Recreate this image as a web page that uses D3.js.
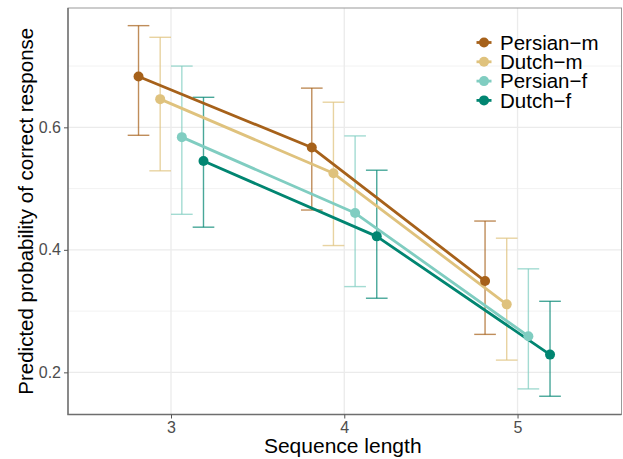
<!DOCTYPE html>
<html>
<head>
<meta charset="utf-8">
<script src="https://cdn.jsdelivr.net/npm/d3@7/dist/d3.min.js"></script>
<style>
  html, body { margin: 0; padding: 0; background: #ffffff; }
  svg { display: block; font-family: "Liberation Sans", Arial, Helvetica, sans-serif; }
</style>
</head>
<body>
<svg id="chart" width="623" height="459"></svg>
<script>
// ---- data ----
const lengths = [3, 4, 5];
const groups = ["Persian\u2212m", "Dutch\u2212m", "Persian\u2212f", "Dutch\u2212f"];
const colors = ["#A6611A", "#DFC27D", "#80CDC1", "#018571"];
const estimate = [
  [0.683, 0.567, 0.349],
  [0.646, 0.525, 0.311],
  [0.584, 0.460, 0.259],
  [0.545, 0.422, 0.229]
];
const lower = [
  [0.587, 0.465, 0.262],
  [0.529, 0.407, 0.220],
  [0.458, 0.340, 0.173],
  [0.437, 0.321, 0.161]
];
const upper = [
  [0.766, 0.664, 0.447],
  [0.747, 0.641, 0.419],
  [0.700, 0.586, 0.369],
  [0.649, 0.530, 0.316]
];
const xTicks = [3, 4, 5];
const yTicks = [0.2, 0.4, 0.6];
const yMinor = [0.3, 0.5, 0.7];
const xDomain = [2.4055, 5.600];
const yDomain = [0.1312, 0.7948];
const xTitle = "Sequence length";
const yTitle = "Predicted probability of correct response";

// ---- layout ----
const panel = { left: 68, right: 621.5, top: 8, bottom: 414.5 };
const dodge = 0.5;
const capWidth = 0.125;

const svg = d3.select("#chart");
const x = d3.scaleLinear().domain(xDomain).range([panel.left, panel.right]);
const y = d3.scaleLinear().domain(yDomain).range([panel.bottom, panel.top]);

// panel background
svg.append("rect")
  .attr("x", panel.left).attr("y", panel.top)
  .attr("width", panel.right - panel.left).attr("height", panel.bottom - panel.top)
  .attr("fill", "#ffffff");

// grid
const grid = svg.append("g");
grid.selectAll("line.ymin").data(yMinor).join("line")
  .attr("x1", panel.left).attr("x2", panel.right)
  .attr("y1", d => y(d)).attr("y2", d => y(d))
  .attr("stroke", "#f2f2f2").attr("stroke-width", 1);
grid.selectAll("line.ymaj").data(yTicks).join("line")
  .attr("x1", panel.left).attr("x2", panel.right)
  .attr("y1", d => y(d)).attr("y2", d => y(d))
  .attr("stroke", "#ebebeb").attr("stroke-width", 1.3);
grid.selectAll("line.xmaj").data(xTicks).join("line")
  .attr("y1", panel.top).attr("y2", panel.bottom)
  .attr("x1", d => x(d)).attr("x2", d => x(d))
  .attr("stroke", "#ebebeb").attr("stroke-width", 1.3);

// flatten rows
const rows = [];
groups.forEach((g, gi) => {
  lengths.forEach((L, li) => {
    rows.push({
      g: gi, x: L + (gi - (groups.length - 1) / 2) * dodge / groups.length,
      est: estimate[gi][li], lo: lower[gi][li], hi: upper[gi][li]
    });
  });
});

// error bars
const eb = svg.append("g");
rows.forEach(r => {
  const c = colors[r.g];
  const gg = eb.append("g").attr("stroke", c).attr("stroke-opacity", 0.72)
    .attr("stroke-width", 1.4).attr("fill", "none");
  gg.append("line").attr("x1", x(r.x)).attr("x2", x(r.x))
    .attr("y1", y(r.lo)).attr("y2", y(r.hi));
  gg.append("line").attr("x1", x(r.x - capWidth / 2)).attr("x2", x(r.x + capWidth / 2))
    .attr("y1", y(r.lo)).attr("y2", y(r.lo));
  gg.append("line").attr("x1", x(r.x - capWidth / 2)).attr("x2", x(r.x + capWidth / 2))
    .attr("y1", y(r.hi)).attr("y2", y(r.hi));
});

// lines
const line = d3.line().x(d => x(d.x)).y(d => y(d.est));
groups.forEach((g, gi) => {
  svg.append("path")
    .datum(rows.filter(r => r.g === gi))
    .attr("d", line)
    .attr("fill", "none")
    .attr("stroke", colors[gi])
    .attr("stroke-width", 2.8)
    .attr("stroke-linejoin", "round");
});

// points
svg.append("g").selectAll("circle").data(rows).join("circle")
  .attr("cx", d => x(d.x)).attr("cy", d => y(d.est)).attr("r", 5)
  .attr("fill", d => colors[d.g]);

// panel border
svg.append("rect")
  .attr("x", panel.left).attr("y", panel.top)
  .attr("width", panel.right - panel.left).attr("height", panel.bottom - panel.top)
  .attr("fill", "none").attr("stroke", "#9a9a9a").attr("stroke-width", 1);
svg.append("path")
  .attr("d", `M${panel.left},${panel.top}V${panel.bottom}H${panel.right}`)
  .attr("fill", "none").attr("stroke", "#6e6e6e").attr("stroke-width", 1.4);

// axes
const yAxis = d3.axisLeft(y).tickValues(yTicks).tickFormat(d3.format(".1f")).tickSize(4).tickPadding(3);
const yg = svg.append("g").attr("transform", `translate(${panel.left},0)`).call(yAxis);
const xAxis = d3.axisBottom(x).tickValues(xTicks).tickFormat(d3.format("d")).tickSize(4).tickPadding(3);
const xg = svg.append("g").attr("transform", `translate(0,${panel.bottom})`).call(xAxis);
[yg, xg].forEach(g => {
  g.select(".domain").remove();
  g.selectAll(".tick line").attr("stroke", "#555555").attr("stroke-width", 1);
  g.selectAll(".tick text").attr("fill", "#4d4d4d").attr("font-size", 16)
    .attr("font-family", "'Liberation Sans', Arial, Helvetica, sans-serif");
});

// titles
svg.append("text")
  .attr("x", (panel.left + panel.right) / 2 - 2).attr("y", 453)
  .attr("text-anchor", "middle").attr("font-size", 21).attr("fill", "#000")
  .text(xTitle);
svg.append("text")
  .attr("transform", `translate(33,${(panel.top + panel.bottom) / 2}) rotate(-90)`)
  .attr("text-anchor", "middle").attr("font-size", 20.5).attr("fill", "#000")
  .text(yTitle);

// legend
const legend = svg.append("g").attr("transform", "translate(484,42.5)");
groups.forEach((g, gi) => {
  const item = legend.append("g").attr("transform", `translate(0,${gi * 19.3})`);
  item.append("line").attr("x1", -7.5).attr("x2", 7.5).attr("y1", 0).attr("y2", 0)
    .attr("stroke", colors[gi]).attr("stroke-width", 2.8);
  item.append("circle").attr("r", 5).attr("fill", colors[gi]);
  item.append("text").attr("x", 16).attr("y", 0).attr("dy", "0.36em")
    .attr("font-size", 20.5).attr("fill", "#000").text(g);
});
</script>
</body>
</html>
